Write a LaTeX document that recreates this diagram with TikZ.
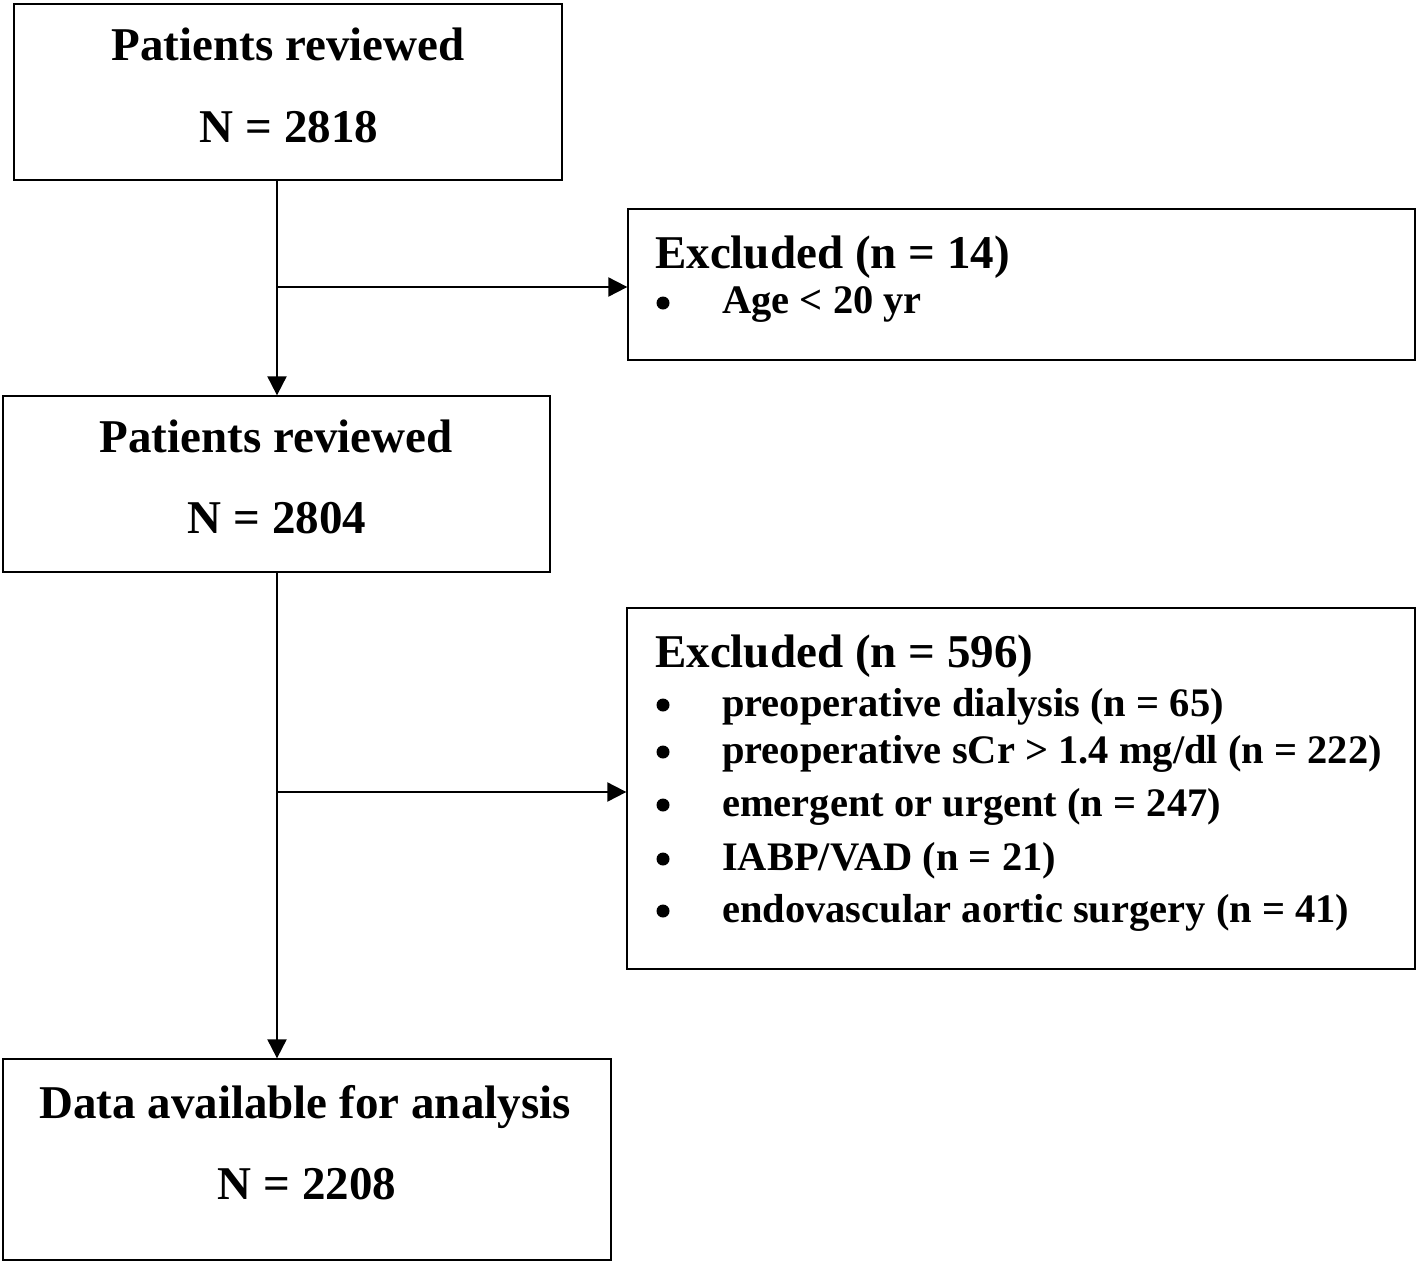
\documentclass[tikz,border=0pt]{standalone}
\usepackage{fontspec}
\setmainfont{Liberation Serif}
\usetikzlibrary{arrows.meta}
\begin{document}
\begin{tikzpicture}[x=1pt,y=-1pt,
  box/.style={draw, line width=1.3pt, rectangle, inner sep=0pt},
  big/.style={font=\bfseries\fontsize{47}{50}\selectfont, inner sep=0pt},
  item/.style={font=\bfseries\fontsize{40.5}{44}\selectfont, inner sep=0pt, anchor=base west},
  flow/.style={line width=2pt, -{Triangle[length=19pt,width=19pt]}},
  dot/.style={circle, fill=black, minimum size=13pt, inner sep=0pt}]
\useasboundingbox (0,0) rectangle (1418,1264);
% boxes
\node[box, minimum width=548pt, minimum height=176pt] (b1) at (288,92) {};
\node[box, minimum width=787pt, minimum height=151pt] (e1) at (1021.5,284.5) {};
\node[box, minimum width=547pt, minimum height=176pt] (b2) at (276.5,484) {};
\node[box, minimum width=788pt, minimum height=361pt] (e2) at (1021,788.5) {};
\node[box, minimum width=608pt, minimum height=201pt] (b3) at (307,1159.5) {};
% texts
\node[big, anchor=base] (t1a) at (288,60) {Patients reviewed};
\node[big, anchor=base] (t1b) at (289,142) {N = 2818};
\node[big, anchor=base] (t2a) at (276,452) {Patients reviewed};
\node[big, anchor=base] (t2b) at (277,533) {N = 2804};
\node[big, anchor=base] (t3a) at (305,1118) {Data available for analysis};
\node[big, anchor=base] (t3b) at (307,1199) {N = 2208};
\node[big, anchor=base west] (h1) at (655,268) {Excluded (n = 14)};
\node[big, anchor=base west] (h2) at (655,667) {Excluded (n = 596)};
\node[dot] (d0) at (663,303) {};
\node[item] (i0) at (722,313) {Age < 20 yr};
\node[dot] (d1) at (663,705) {};
\node[item] (i1) at (722,716) {preoperative dialysis (n = 65)};
\node[dot] (d2) at (663,752) {};
\node[item] (i2) at (722,763) {preoperative sCr > 1.4 mg/dl (n = 222)};
\node[dot] (d3) at (663,805) {};
\node[item] (i3) at (722,816) {emergent or urgent (n = 247)};
\node[dot] (d4) at (663,859) {};
\node[item] (i4) at (722,870) {IABP/VAD (n = 21)};
\node[dot] (d5) at (663,911) {};
\node[item] (i5) at (722,922) {endovascular aortic surgery (n = 41)};
% connectors
\coordinate (j1) at (277,287);
\coordinate (j2) at (277,792);
\draw[flow] (b1.south -| j1) -- (b2.north -| j1);
\draw[flow] (j1) -- (j1 -| e1.west);
\draw[flow] (b2.south -| j2) -- (b3.north -| j2);
\draw[flow] (j2) -- (j2 -| e2.west);
\end{tikzpicture}
\end{document}
